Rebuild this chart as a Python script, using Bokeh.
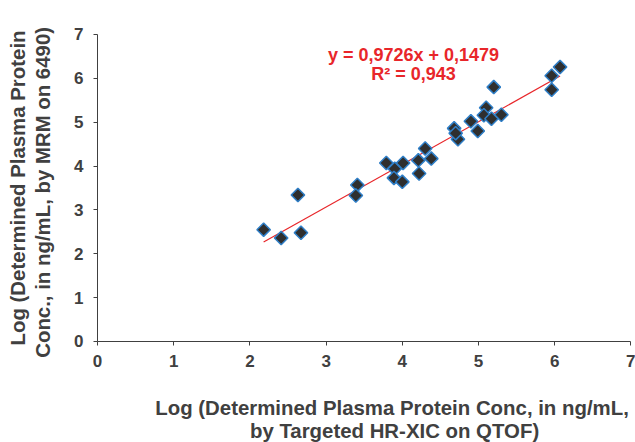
import numpy as np
from bokeh.plotting import figure
from bokeh.models import Range1d, FixedTicker, Label, LinearAxis
from bokeh.embed import file_html
from bokeh.resources import INLINE

# Data
qtof_x = [2.18, 2.41, 2.67, 2.63, 3.41, 3.39, 3.79, 3.90, 4.01, 3.89, 4.00,
          4.21, 4.22, 4.30, 4.38, 4.68, 4.73, 4.70, 4.90, 4.99, 5.10, 5.07,
          5.17, 5.20, 5.30, 5.96, 5.96, 6.07]
mrm_y = [2.55, 2.36, 2.48, 3.34, 3.57, 3.33, 4.07, 3.94, 4.07, 3.73, 3.64,
         4.13, 3.83, 4.40, 4.17, 4.86, 4.61, 4.75, 5.02, 4.80, 5.33, 5.16,
         5.08, 5.80, 5.17, 6.06, 5.74, 6.26]
slope = 0.9726
intercept = 0.1479
r2_text = "R² = 0,943"
eq_text = "y = 0,9726x + 0,1479"
ticks = [0, 1, 2, 3, 4, 5, 6, 7]
x_title_1 = "Log (Determined Plasma Protein Conc, in ng/mL,"
x_title_2 = "by Targeted HR-XIC on QTOF)"
y_title_1 = "Log (Determined Plasma Protein"
y_title_2 = "Conc., in ng/mL, by MRM on 6490)"

FONT = "Liberation Sans"
TXT = "#404040"
RED = "#e8262a"

# the frame covers the whole canvas so that the axis titles (drawn as labels)
# are inside it; the axes are pinned at 0 and bounded to 0..7
p = figure(width=635, height=442, output_backend="svg", toolbar_location=None,
           x_range=Range1d(-1.273, 7.060), y_range=Range1d(-2.303, 7.775),
           x_axis_type=None, y_axis_type=None, min_border=0)
p.outline_line_color = None
p.background_fill_color = "white"

xax = LinearAxis(fixed_location=0, bounds=(0, 7))
yax = LinearAxis(fixed_location=0, bounds=(0, 7))
p.add_layout(xax, "below")
p.add_layout(yax, "left")

for ax in (xax, yax):
    ax.ticker = FixedTicker(ticks=ticks)
    ax.minor_tick_line_color = None
    ax.axis_line_color = "#404040"
    ax.major_tick_line_color = "#404040"
    ax.major_tick_in = 0
    ax.major_tick_out = 4
    ax.major_label_text_font = FONT
    ax.major_label_text_font_style = "bold"
    ax.major_label_text_font_size = "17px"
    ax.major_label_text_color = TXT
    ax.major_label_standoff = 10

xs_line = np.array([min(qtof_x), max(qtof_x)])
p.line(xs_line, slope * xs_line + intercept, line_color=RED, line_width=1.2)

p.scatter(qtof_x, mrm_y, marker="square", angle=np.pi / 4, size=9.5,
          fill_color="#2f2f2f", line_color="#2f7fc8", line_width=1.5)

def add_text(x, y, text, size, color, angle=0.0):
    p.add_layout(Label(x=x, y=y, text=text, angle=angle, text_align="center",
                       text_baseline="middle", text_font=FONT,
                       text_font_style="bold", text_font_size=size,
                       text_color=color))

add_text(4.147, 6.53, eq_text, "18px", RED)
add_text(4.147, 6.09, r2_text, "18px", RED)

add_text(3.865, -1.516, x_title_1, "20.4px", TXT)
add_text(3.898, -2.030, x_title_2, "20.4px", TXT)
add_text(-1.037, 3.50, y_title_1, "20.4px", TXT, angle=np.pi / 2)
add_text(-0.709, 3.40, y_title_2, "20.4px", TXT, angle=np.pi / 2)

open("out.html", "w").write(file_html(p, INLINE))
